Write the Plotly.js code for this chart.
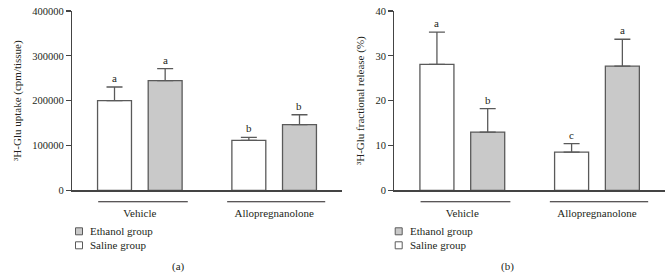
<!DOCTYPE html>
<html>
<head>
<meta charset="utf-8">
<script src="https://cdn.plot.ly/plotly-3.0.1.min.js"></script>
<style>
html,body{margin:0;padding:0;background:#fff;}
#chart{width:670px;height:278px;}
</style>
</head>
<body>
<div id="chart"></div>
<script>
// ---- data ----
const categories = ['Vehicle', 'Allopregnanolone'];
const seriesNames = ['Saline group', 'Ethanol group'];
const legendOrder = ['Ethanol group', 'Saline group'];

const salineUptake = [200000, 111500];
const salineUptakeErr = [30500, 6500];
const ethanolUptake = [244500, 146500];
const ethanolUptakeErr = [27000, 22000];
const salineUptakeLetters = ['a', 'b'];
const ethanolUptakeLetters = ['a', 'b'];

const salineRelease = [28.1, 8.5];
const salineReleaseErr = [7.2, 1.9];
const ethanolRelease = [13.0, 27.7];
const ethanolReleaseErr = [5.2, 6.0];
const salineReleaseLetters = ['a', 'c'];
const ethanolReleaseLetters = ['b', 'a'];

const uptakeTicks = [0, 100000, 200000, 300000, 400000];
const releaseTicks = [0, 10, 20, 30, 40];
const panelCaptions = ['(a)', '(b)'];
const yTitles = ['\u00B3H-Glu uptake (cpm/tissue)', '\u00B3H-Glu fractional release (%)'];

// ---- styles ----
const FONT = 'Liberation Serif, Times New Roman, serif';
const TXT = '#231f20';
const EDGE = '#5a5a5a';
const GRAY = '#c9c9c9';
const fills = {'Saline group': '#ffffff', 'Ethanol group': GRAY};
const bargap = 0.246;
const bargroupgap = 0.33;
const off = (1 - bargap) / 4;
const W = 670, H = 278;
const px = v => v / W;
const py = v => 1 - v / H;

function barTrace(name, y, err, xa, ya) {
  return {
    type: 'bar', name: name, x: categories, y: y,
    xaxis: xa, yaxis: ya, showlegend: false,
    marker: {color: fills[name], line: {color: EDGE, width: 1.3}},
    error_y: {type: 'data', array: err, symmetric: false, arrayminus: err.map(() => 0),
              color: EDGE, thickness: 1.3, width: 8}
  };
}

const data = [
  barTrace(seriesNames[0], salineUptake, salineUptakeErr, 'x', 'y'),
  barTrace(seriesNames[1], ethanolUptake, ethanolUptakeErr, 'x', 'y'),
  barTrace(seriesNames[0], salineRelease, salineReleaseErr, 'x2', 'y2'),
  barTrace(seriesNames[1], ethanolRelease, ethanolReleaseErr, 'x2', 'y2')
];

const annotations = [];
const shapes = [];
function letters(vals, errs, labs, sign, xref, yref) {
  labs.forEach((t, i) => {
    annotations.push({
      x: i + sign * off, y: vals[i] + errs[i], xref: xref, yref: yref,
      text: t, showarrow: false, yanchor: 'bottom', yshift: 1,
      font: {family: FONT, size: 11, color: TXT}
    });
  });
}
letters(salineUptake, salineUptakeErr, salineUptakeLetters, -1, 'x', 'y');
letters(ethanolUptake, ethanolUptakeErr, ethanolUptakeLetters, 1, 'x', 'y');
letters(salineRelease, salineReleaseErr, salineReleaseLetters, -1, 'x2', 'y2');
letters(ethanolRelease, ethanolReleaseErr, ethanolReleaseLetters, 1, 'x2', 'y2');

// group underlines
const underlineSpan = [[-0.31, 0.357], [-0.35, 0.38]];
['x', 'x2'].forEach(xr => {
  categories.forEach((c, i) => {
    shapes.push({
      type: 'line', xref: xr, yref: 'paper',
      x0: i + underlineSpan[i][0], x1: i + underlineSpan[i][1],
      y0: py(201.7), y1: py(201.7),
      line: {color: TXT, width: 1.1}
    });
  });
});

// legends (drawn per panel)
const legendLeft = [79, 398.7];
const legendRows = [231.3, 245.3];
legendLeft.forEach(cx => {
  legendOrder.forEach((name, j) => {
    const cy = legendRows[j];
    shapes.push({
      type: 'rect', xref: 'paper', yref: 'paper',
      x0: px(cx - 3.5), x1: px(cx + 3.5), y0: py(cy + 3.5), y1: py(cy - 3.5),
      fillcolor: fills[name], line: {color: EDGE, width: 1}
    });
    annotations.push({
      x: px(cx + 9.3), y: py(cy), xref: 'paper', yref: 'paper', text: name,
      showarrow: false, xanchor: 'left', yanchor: 'middle',
      font: {family: FONT, size: 11, color: TXT}
    });
  });
});

// captions
[178, 507].forEach((cx, k) => {
  annotations.push({x: px(cx), y: py(266), xref: 'paper', yref: 'paper', text: panelCaptions[k],
    showarrow: false, xanchor: 'center', yanchor: 'middle',
    font: {family: FONT, size: 11, color: TXT}});
});

const yDom = [py(190.3), py(11)];
function yAxis(title, ticks, range, anchor) {
  return {
    domain: yDom, range: range, anchor: anchor,
    tickvals: ticks, ticktext: ticks.map(String),
    ticks: 'outside', ticklen: 5, tickwidth: 1.1, tickcolor: '#444',
    showline: true, linecolor: '#444', linewidth: 1.2,
    showgrid: false, zeroline: false,
    tickfont: {family: FONT, size: 10.5, color: TXT},
    title: {text: title, font: {family: FONT, size: 11, color: TXT}, standoff: 8}
  };
}
function xAxis(domain, anchor) {
  return {
    domain: domain, anchor: anchor, type: 'category', range: [-0.505, 1.505],
    showline: true, linecolor: '#444', linewidth: 1.2,
    showticklabels: true, ticks: '', ticklabelstandoff: 12,
    tickfont: {family: FONT, size: 11, color: TXT},
    showgrid: false, zeroline: false
  };
}

const layout = {
  width: W, height: H,
  margin: {l: 0, r: 0, t: 0, b: 0},
  paper_bgcolor: '#fff', plot_bgcolor: 'rgba(0,0,0,0)',
  barmode: 'group', bargap: bargap, bargroupgap: bargroupgap,
  showlegend: false,
  font: {family: FONT, color: TXT},
  xaxis: xAxis([px(72), px(342)], 'y'),
  yaxis: yAxis(yTitles[0], uptakeTicks, [0, 400000], 'x'),
  xaxis2: xAxis([px(394.3), px(665)], 'y2'),
  yaxis2: yAxis(yTitles[1], releaseTicks, [0, 40], 'x2'),
  annotations: annotations,
  shapes: shapes
};

Plotly.newPlot('chart', data, layout, {displayModeBar: false, staticPlot: true});
</script>
</body>
</html>
